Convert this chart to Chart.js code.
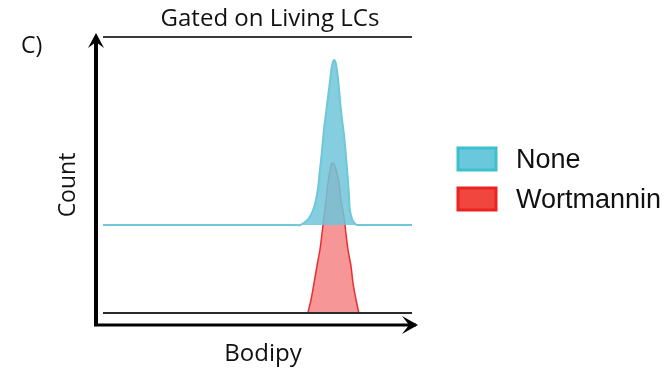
<!DOCTYPE html>
<html><head><meta charset="utf-8">
<script src="https://cdn.jsdelivr.net/npm/chart.js@4/dist/chart.umd.min.js"></script>
<style>html,body{margin:0;padding:0;background:#fff;}#wrap{width:669px;height:373px;}</style>
</head><body><div id="wrap"><canvas id="c" width="669" height="373"></canvas></div>
<script>
// Bodipy channel positions and counts (offset histogram)
const noneX = [0, 621, 638, 654, 667, 680, 689, 696, 702, 709, 715, 725, 735, 741, 748, 754, 761, 767, 773, 780, 786, 790, 796, 799, 806, 816, 825, 1000];
const noneY = [88, 88, 88, 91, 95, 103, 113, 125, 143, 163, 183, 208, 233, 247, 253, 249, 233, 213, 195, 178, 158, 143, 118, 103, 94, 89, 88, 88];
const noneBaseline = 88;
const wortX = [663, 673, 683, 693, 702, 709, 715, 722, 728, 735, 741, 748, 754, 764, 770, 780, 786, 793, 803, 809, 819, 828];
const wortY = [0, 13, 30, 48, 63, 80, 96, 113, 130, 143, 150, 149, 143, 130, 113, 96, 80, 63, 46, 30, 13, 0];
const seriesNames = ['None', 'Wortmannin'];
const titleText = 'Gated on Living LCs';
const xTitle = 'Bodipy';
const yTitle = 'Count';
const panelLabel = 'C)';

const toPts = (xs, ys) => xs.map((x, i) => ({x: x, y: ys[i]}));

const deco = {
  id: 'deco',
  beforeDatasetsDraw(chart) {
    const {ctx, chartArea: a} = chart;
    ctx.save();
    ctx.strokeStyle = '#3a3a3a'; ctx.lineWidth = 2;
    ctx.beginPath(); ctx.moveTo(a.left, a.top + 4); ctx.lineTo(a.right, a.top + 4); ctx.stroke();
    ctx.restore();
  },
  afterDatasetsDraw(chart) {
    const {ctx, chartArea: a} = chart;
    ctx.save();
    ctx.strokeStyle = '#2a2a2a'; ctx.lineWidth = 2;
    ctx.beginPath(); ctx.moveTo(a.left, a.bottom); ctx.lineTo(a.right, a.bottom); ctx.stroke();
    const vx = a.left - 7, vb = a.bottom + 12;
    ctx.strokeStyle = '#000'; ctx.fillStyle = '#000'; ctx.lineWidth = 4;
    ctx.beginPath(); ctx.moveTo(vx, vb); ctx.lineTo(vx, a.top + 6); ctx.stroke();
    ctx.beginPath(); ctx.moveTo(vx, a.top); ctx.lineTo(vx - 8, a.top + 15); ctx.lineTo(vx, a.top + 9); ctx.lineTo(vx + 8, a.top + 15); ctx.closePath(); ctx.fill();
    ctx.lineWidth = 3;
    ctx.beginPath(); ctx.moveTo(vx - 2, vb); ctx.lineTo(a.right + 4, vb); ctx.stroke();
    ctx.beginPath(); ctx.moveTo(a.right + 6, vb); ctx.lineTo(a.right - 10, vb - 9); ctx.lineTo(a.right - 3, vb); ctx.lineTo(a.right - 10, vb + 9); ctx.closePath(); ctx.fill();
    ctx.fillStyle = '#111';
    ctx.textBaseline = 'middle'; ctx.textAlign = 'center';
    ctx.font = '24px "Open Sans", Lato, sans-serif';
    ctx.fillText(titleText, 270, 19);
    ctx.fillText(xTitle, 263, 354);
    ctx.font = '23px "Open Sans", Lato, sans-serif';
    ctx.save(); ctx.translate(68, 185); ctx.rotate(-Math.PI / 2); ctx.fillText(yTitle, 0, 0); ctx.restore();
    ctx.textAlign = 'left'; ctx.font = '23px "Open Sans", Lato, sans-serif';
    ctx.fillText(panelLabel, 21, 46);
    const items = chart.data.datasets;
    ctx.font = '27px "Liberation Sans", Arial, sans-serif';
    ctx.textBaseline = 'alphabetic';
    items.forEach((ds, i) => {
      const y = 148 + i * 40;
      ctx.fillStyle = ds.legendFill; ctx.strokeStyle = ds.legendBorder; ctx.lineWidth = 3;
      ctx.fillRect(458, y, 38, 22); ctx.strokeRect(458, y, 38, 22);
      ctx.fillStyle = '#111';
      ctx.fillText(ds.label, 516, y + 20);
    });
    ctx.restore();
  }
};

new Chart(document.getElementById('c'), {
  type: 'line',
  data: {
    datasets: [
      {label: seriesNames[0], data: toPts(noneX, noneY), borderColor: 'rgb(110,200,218)', backgroundColor: 'rgba(110,198,218,0.85)',
       fill: {value: noneBaseline}, borderWidth: 2, pointRadius: 0, tension: 0.3,
       legendFill: 'rgb(105,200,220)', legendBorder: 'rgb(60,192,205)'},
      {label: seriesNames[1], data: toPts(wortX, wortY), borderColor: 'rgb(236,45,45)', backgroundColor: 'rgba(240,85,85,0.62)',
       fill: 'origin', borderWidth: 1.5, pointRadius: 0, tension: 0.3,
       legendFill: 'rgb(240,70,62)', legendBorder: 'rgb(236,35,35)'}
    ]
  },
  options: {
    responsive: false, animation: false,
    layout: {padding: {left: 103, right: 257, top: 33, bottom: 60}},
    scales: {
      x: {type: 'linear', min: 0, max: 1000, display: false},
      y: {type: 'linear', min: 0, max: 280, display: false}
    },
    plugins: {legend: {display: false}, tooltip: {enabled: false}, title: {display: false}}
  },
  plugins: [deco]
});
</script></body></html>
